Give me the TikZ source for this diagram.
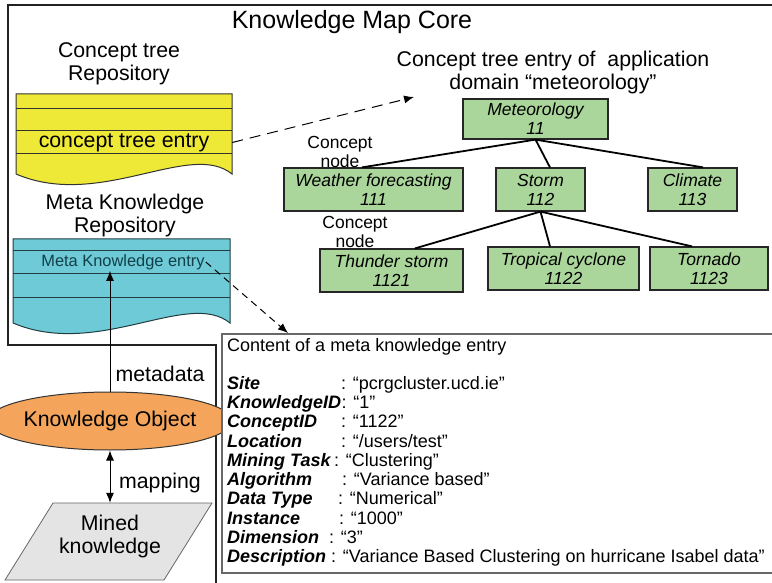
\documentclass[tikz,border=0pt]{standalone}
\usepackage{fontspec}
\setmainfont{Liberation Sans}
\usetikzlibrary{arrows.meta,shapes.geometric}
\definecolor{ctyellow}{HTML}{EEE836}
\definecolor{mkcyan}{HTML}{6DCAD6}
\definecolor{cgreen}{HTML}{ABD69B}
\definecolor{koorange}{HTML}{F4A55B}
\definecolor{mkgray}{HTML}{E4E4E4}
\definecolor{framecol}{HTML}{222222}
\definecolor{boxgray}{HTML}{686868}
\definecolor{entryteal}{HTML}{12404A}
\newcommand\titlesize{\fontsize{25}{28}\selectfont}
\newcommand\labsize{\fontsize{21.3}{23}\selectfont}
\newcommand\treesize{\fontsize{17.5}{19}\selectfont}
\newcommand\entrysize{\fontsize{16.4}{18}\selectfont}
\newcommand\listsize{\fontsize{18}{19.3}\selectfont}
\begin{document}
\begin{tikzpicture}[x=1pt,y=-1pt,
  frameline/.style={draw=framecol,line width=2pt},
  docline/.style={draw=black!80,line width=1pt},
  lbl/.style={align=center,font=\labsize,inner sep=0},
  concept/.style={draw=black!85,line width=1.2pt,fill=cgreen,align=center,
    font=\treesize\itshape,inner sep=0,minimum height=43},
  branch/.style={draw=black,line width=1.8pt},
  tip/.style={-{Latex[length=10pt,width=8pt]}},
  dasharrow/.style={draw=black,line width=1pt,dash pattern=on 11pt off 7pt,tip},
  field/.style={anchor=base west,inner sep=0,font=\listsize\bfseries\itshape},
  fieldval/.style={anchor=base west,inner sep=0,font=\listsize}]
\useasboundingbox (0,0) rectangle (772,583);

% outer frame of the knowledge map core
\draw[frameline] (772,5) -- (8,5) -- (8,345) -- (216,345) -- (216,583);
\node[lbl,font=\titlesize] (title) at (352,22) {Knowledge Map Core};

% concept tree repository
\node[lbl] (ctrepo) at (119,63.5) {Concept tree\\Repository};
\draw[docline,fill=ctyellow] (16,94) -- (232,94) -- (232,174)
  .. controls (190,140) and (100,210) .. (16,174) -- cycle;
\foreach \yy in {109,131,154} \draw[docline] (16,\yy) -- (232,\yy);
\node[lbl,minimum width=216] (cte) at (124,142.5) {concept tree entry};

% meta knowledge repository
\node[lbl] (mkrepo) at (125,215.5) {Meta Knowledge\\Repository};
\draw[docline,draw=black!70!mkcyan,fill=mkcyan] (13,239) -- (230,239) -- (230,323)
  .. controls (188,289) and (98,359) .. (13,323) -- cycle;
\foreach \yy in {251,273,297} \draw[docline,draw=black!70!mkcyan] (13,\yy) -- (230,\yy);
\node[font=\entrysize,text=entryteal,inner sep=1pt] (mke) at (123,262) {Meta Knowledge entry};

% concept tree of the application domain
\node[lbl] (domain) at (553,72) {Concept tree entry of\ \ application\\domain “meteorology”};
\node[concept,minimum width=145,minimum height=40] (met) at (535.5,119) {Meteorology\\11};
\node[concept,minimum width=179] (wf) at (373.5,189.5) {Weather forecasting\\111};
\node[concept,minimum width=89] (storm) at (540.5,189.5) {Storm\\112};
\node[concept,minimum width=89] (clim) at (692.5,189.5) {Climate\\113};
\node[concept,minimum width=143] (thun) at (391.5,270.5) {Thunder storm\\1121};
\node[concept,minimum width=151] (trop) at (563.5,268.5) {Tropical cyclone\\1122};
\node[concept,minimum width=118] (torn) at (709,268.5) {Tornado\\1123};
\draw[branch] (met.south) -- ([xshift=-11.5pt]wf.north);
\draw[branch] (met.south) -- ([xshift=9.5pt]storm.north);
\draw[branch] (met.south) -- ([xshift=10.5pt]clim.north);
\draw[branch] (storm.south) -- ([xshift=23.5pt]thun.north);
\draw[branch] (storm.south) -- ([xshift=-13.5pt]trop.north);
\draw[branch] (storm.south) -- ([xshift=-17pt]torn.north);
\node[lbl,font=\treesize] (cn1) at (340,151.5) {Concept\\node};
\node[lbl,font=\treesize] (cn2) at (355,231.5) {Concept\\node};

% knowledge object and mined knowledge
\node[ellipse,draw=black!80,line width=1pt,fill=koorange,minimum width=194,
  minimum height=58,inner sep=0,font=\labsize] (ko) at (110,421) {Knowledge Object};
\draw[draw=black!60,line width=0.8pt,fill=mkgray] (53,503) -- (212,503) -- (164,580) -- (5,580) -- cycle;
\node[lbl,minimum height=67,minimum width=150] (mk) at (110,536.5) {Mined\\knowledge};
\draw[line width=1pt,{Latex[length=10pt,width=8pt]}-{Latex[length=10pt,width=8pt]}] (ko.south) -- (mk.north);
\node[lbl] (mapping) at (160,483) {mapping};
\draw[line width=1pt,tip] (ko.north) -- (ko.north |- mke.south);
\node[lbl] (metadata) at (160,374) {metadata};

% content of a meta knowledge entry
\node[draw=boxgray,fill=white,line width=1.8pt,anchor=north west,minimum width=570,
  minimum height=239,inner sep=0] (content) at (221,333) {};
\node[fieldval] (chead) at (227,351) {Content of a meta knowledge entry};
\node[field] (f1) at (227,389.5) {Site};
\node[fieldval] (v1) at (341,389.5) {: “pcrgcluster.ucd.ie”};
\node[field] (f2) at (227,408.7) {KnowledgeID};
\node[fieldval] (v2) at (f2.base east) {: “1”};
\node[field] (f3) at (227,427.9) {ConceptID};
\node[fieldval] (v3) at (341,427.9) {: “1122”};
\node[field] (f4) at (227,447.2) {Location};
\node[fieldval] (v4) at (341,447.2) {: “/users/test”};
\node[field] (f5) at (227,466.4) {Mining Task};
\node[fieldval] (v5) at (334,466.4) {: “Clustering”};
\node[field] (f6) at (227,485.6) {Algorithm};
\node[fieldval] (v6) at (342,485.6) {: “Variance based”};
\node[field] (f7) at (227,504.8) {Data Type};
\node[fieldval] (v7) at (338,504.8) {: “Numerical”};
\node[field] (f8) at (227,524.0) {Instance};
\node[fieldval] (v8) at (339,524.0) {: “1000”};
\node[field] (f9) at (227,543.3) {Dimension};
\node[fieldval] (v9) at (329,543.3) {: “3”};
\node[field] (f10) at (227,562.5) {Description};
\node[fieldval] (v10) at (331,562.5) {: “Variance Based Clustering on hurricane Isabel data”};

% links between the repositories and their contents
\coordinate (ctarrow) at (414,97);
\draw[dasharrow] (cte.east) -- (ctarrow);
\draw[dasharrow,dash pattern=on 7pt off 5pt] (mke.east) -- ([xshift=67pt]content.north west);
\end{tikzpicture}
\end{document}
